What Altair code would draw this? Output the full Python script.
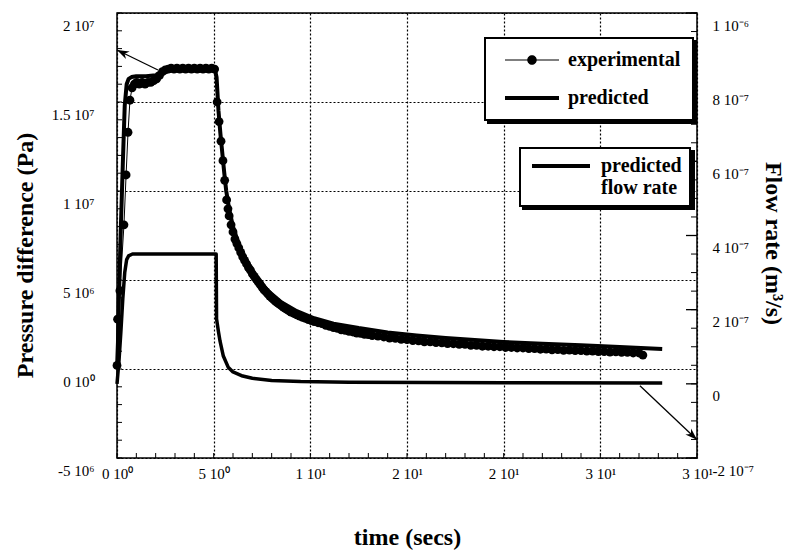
import json
import math
import altair as alt
import pandas as pd

# ---------------- data ----------------
# experimental pressure difference: time (s), pressure (10^6 Pa)
exp_t = [0.00, 0.03, 0.15, 0.36, 0.47, 0.57, 0.67, 0.78, 0.90, 1.02,
         1.15, 1.30, 1.45, 1.60, 1.75, 1.90, 2.05, 2.20, 2.35, 2.50,
         2.65, 2.80, 2.95, 3.10, 3.25, 3.40, 3.55, 3.70, 3.85, 4.00,
         4.15, 4.30, 4.45, 4.60, 4.75, 4.90, 5.05, 5.18, 5.28, 5.38,
         5.48, 5.57, 5.67, 5.74, 5.80, 5.90, 6.00, 6.10, 6.20, 6.30,
         6.40, 6.50, 6.60, 6.70, 6.80, 6.90, 7.00, 7.10, 7.20, 7.30,
         7.40, 7.50, 7.60, 7.70, 7.80, 7.90, 8.00, 8.10, 8.20, 8.30,
         8.40, 8.50, 8.60, 8.70, 8.80, 8.90, 9.00, 9.15, 9.30, 9.45,
         9.60, 9.75, 9.90, 10.05, 10.2, 10.4, 10.6, 10.8, 11.0, 11.2,
         11.4, 11.6, 11.8, 12.0, 12.2, 12.4, 12.6, 12.8, 13.0, 13.2,
         13.5, 13.8, 14.1, 14.4, 14.7, 15.0, 15.3, 15.6, 15.9, 16.2,
         16.5, 16.8, 17.1, 17.4, 17.7, 18.0, 18.3, 18.6, 18.9, 19.2,
         19.5, 19.8, 20.1, 20.4, 20.7, 21.0, 21.3, 21.6, 21.9, 22.2,
         22.5, 22.8, 23.1, 23.4, 23.7, 24.0, 24.3, 24.6, 24.9, 25.2,
         25.5, 25.8, 26.1, 26.4, 26.7, 27.0, 27.2]
exp_p_e6 = [0.2, 2.8, 4.4, 8.1, 10.9, 13.3, 15.1, 15.8, 16.0, 16.1,
            16.0, 16.1, 16.0, 16.1, 16.1, 16.2, 16.3, 16.5, 16.7, 16.8,
            16.85, 16.9, 16.85, 16.9, 16.85, 16.9, 16.85, 16.9, 16.85, 16.9,
            16.85, 16.9, 16.85, 16.9, 16.85, 16.9, 16.85, 15.0, 13.9, 12.8,
            11.7, 10.6, 9.5, 9.0, 8.6, 8.1, 7.7, 7.3, 7.05, 6.8,
            6.55, 6.3, 6.1, 5.9, 5.7, 5.55, 5.35, 5.2, 5.05, 4.9,
            4.75, 4.6, 4.45, 4.35, 4.22, 4.1, 4.0, 3.9, 3.8, 3.72,
            3.64, 3.56, 3.48, 3.4, 3.34, 3.27, 3.2, 3.12, 3.04, 2.97,
            2.9, 2.84, 2.78, 2.72, 2.66, 2.6, 2.55, 2.45, 2.4, 2.33,
            2.28, 2.2, 2.17, 2.12, 2.08, 2.02, 2.0, 1.95, 1.93, 1.88,
            1.85, 1.8, 1.74, 1.72, 1.66, 1.65, 1.6, 1.58, 1.53, 1.52,
            1.48, 1.47, 1.43, 1.42, 1.38, 1.38, 1.33, 1.33, 1.28, 1.28,
            1.25, 1.25, 1.21, 1.21, 1.18, 1.18, 1.14, 1.15, 1.11, 1.12,
            1.08, 1.09, 1.05, 1.06, 1.03, 1.03, 1.0, 1.01, 0.98, 0.98,
            0.95, 0.96, 0.93, 0.93, 0.9, 0.9, 0.78]

# predicted pressure difference: time (s), pressure (10^6 Pa)
pred_t = [0.0, 0.05, 0.1, 0.2, 0.3, 0.4, 0.5, 0.6, 0.75, 1.0, 1.5, 2.0, 2.2, 2.4, 2.6, 3.0, 4.0,
          5.05, 5.15, 5.25, 5.35, 5.45, 5.55, 5.65, 5.8, 6.0, 6.3, 6.7, 7.2, 7.8, 8.5, 9.3, 10.2,
          11.2, 12.5, 14.0, 15.5, 17.0, 18.5, 20.0, 22.0, 24.0, 26.0, 28.2]
pred_p_e6 = [0.0, 1.5, 4.0, 8.0, 11.5, 14.8, 16.0, 16.3, 16.4, 16.45, 16.45, 16.5, 16.6, 16.75, 16.85,
             16.9, 16.9, 16.9, 16.4, 14.5, 13.2, 12.1, 11.0, 10.0, 9.0, 8.0, 7.0, 6.1, 5.2, 4.4,
             3.75, 3.25, 2.85, 2.55, 2.3, 2.05, 1.88, 1.74, 1.63, 1.52, 1.42, 1.33, 1.24, 1.13]

# predicted flow rate: time (s), flow (10^-7 m^3/s)
flow_t = [0.0, 0.1, 0.2, 0.3, 0.4, 0.5, 0.6, 0.8, 1.0, 5.13, 5.15, 5.25, 5.33, 5.5, 5.75, 6.0,
          6.5, 7.0, 8.0, 9.5, 12.0, 20.0, 28.2]
flow_q_e7 = [0.0, 0.6, 1.4, 2.3, 3.0, 3.35, 3.45, 3.5, 3.5, 3.5, 1.75, 1.4, 1.15, 0.75, 0.45, 0.32,
             0.21, 0.15, 0.09, 0.06, 0.04, 0.03, 0.02]

# annotation arrows (data units): from curve towards its axis
arrow1_t = [2.12, 0.0]
arrow1_p = [16.8e6, 17.92e6]
arrow2_t = [27.05, 30.0]
arrow2_q = [-0.054e-7, -1.51e-7]

# axis ticks and labels
x_tick_values = [0, 5, 10, 15, 20, 25, 30]
x_tick_labels = ["0 10⁰", "5 10⁰", "1 10¹", "2 10¹", "2 10¹", "3 10¹", "3 10¹"]
left_tick_values = [-5e6, 0, 5e6, 1e7, 1.5e7, 2e7]
left_tick_labels = ["-5 10⁶", "0 10⁰", "5 10⁶", "1 10⁷", "1.5 10⁷", "2 10⁷"]
right_tick_values = [-2e-7, 0, 2e-7, 4e-7, 6e-7, 8e-7, 1e-6]
right_tick_labels = ["-2 10⁻⁷", "0", "2 10⁻⁷", "4 10⁻⁷", "6 10⁻⁷", "8 10⁻⁷", "1 10⁻⁶"]
x_minor_ticks = [float(i) for i in range(0, 31)]
left_minor_ticks = [-5e6 + i * 1e6 for i in range(26)]
right_minor_ticks = [-2e-7 + i * 5e-8 for i in range(25)]

legend1_labels = ["experimental", "predicted"]
legend2_labels = ["predicted flow rate"]

# ---------------- chart ----------------
W, H = 580, 445
FONT = "Liberation Serif"
X_DOM, YL_DOM, YR_DOM = [0, 30], [-5e6, 2e7], [-2e-7, 1e-6]


def xs():
    return alt.Scale(domain=X_DOM, nice=False, zero=False)


def yls():
    return alt.Scale(domain=YL_DOM, nice=False, zero=False)


def yrs():
    return alt.Scale(domain=YR_DOM, nice=False, zero=False)


exp_df = pd.DataFrame({"t": exp_t, "P": [v * 1e6 for v in exp_p_e6]})
pred_df = pd.DataFrame({"t": pred_t, "P": [v * 1e6 for v in pred_p_e6]})
flow_df = pd.DataFrame({"t": flow_t, "Q": [v * 1e-7 for v in flow_q_e7]})

common_axis = dict(ticks=False, domain=False, gridColor="black", gridDash=[2, 2],
                   gridWidth=1.2, gridOpacity=1, labelFont=FONT, labelFontSize=15,
                   labelColor="black", labelFlush=False, labelOverlap=False,
                   titleFont=FONT, titleFontSize=24, titleFontWeight="bold",
                   titleColor="black")

x_axis = alt.Axis(orient="bottom", grid=True, values=x_tick_values,
                  labelExpr=f"{json.dumps(x_tick_labels, ensure_ascii=False)}[round(datum.value / 5)]",
                  labelPadding=8, title="time  (secs)", titlePadding=44, **common_axis)
left_axis = alt.Axis(orient="left", grid=True, values=left_tick_values,
                     labelExpr=f"{json.dumps(left_tick_labels, ensure_ascii=False)}[round((datum.value + 5000000) / 5000000)]",
                     labelPadding=23, labelOffset=12, title="Pressure difference (Pa)",
                     titleAngle=270, titleX=-92, titleY=242, titleAlign="center",
                     titleBaseline="middle", **common_axis)
right_axis = alt.Axis(orient="right", grid=False, values=right_tick_values,
                      labelExpr=f"{json.dumps(right_tick_labels, ensure_ascii=False)}[round((datum.value + 0.0000002) / 0.0000002)]",
                      labelPadding=15, labelOffset=12, title="Flow rate (m³/s)",
                      titleAngle=90, titleX=75, titleY=230, titleAlign="center",
                      titleBaseline="middle", **common_axis)


def X(f):
    # every layer carries the same x axis so that the shared axis merges cleanly
    return alt.X(f, type="quantitative", scale=xs(), axis=x_axis)


def YL(f):
    return alt.Y(f, type="quantitative", scale=yls(), axis=None)


def YR(f):
    return alt.Y(f, type="quantitative", scale=yrs(), axis=None)


pred_line = alt.Chart(pred_df).mark_line(color="black", strokeWidth=4, strokeJoin="round").encode(
    x=X("t"), y=alt.Y("P:Q", scale=yls(), axis=left_axis))
exp_line = alt.Chart(exp_df).mark_line(color="black", strokeWidth=1).encode(x=X("t"), y=YL("P"))
exp_pts = alt.Chart(exp_df).mark_circle(color="black", size=78, opacity=1).encode(x=X("t"), y=YL("P"))

left_ticks = alt.Chart(pd.DataFrame({"v": left_minor_ticks})).mark_rule(color="black", strokeWidth=1).encode(
    y=YL("v"), x=alt.value(0), x2=alt.value(5))
bottom_ticks = alt.Chart(pd.DataFrame({"v": x_minor_ticks})).mark_rule(color="black", strokeWidth=1).encode(
    x=X("v"), y=alt.value(H), y2=alt.value(H - 5))

# arrow heads: orientation derived from the arrow's data direction
ARROW = "M0,0L-0.8,2.3L0,1.6L0.8,2.3Z"
kx = W / (X_DOM[1] - X_DOM[0])
kyl = H / (YL_DOM[1] - YL_DOM[0])
kyr = H / (YR_DOM[1] - YR_DOM[0])


def head_angle(ts, vs, ky):
    dx = (ts[1] - ts[0]) * kx
    dy = -(vs[1] - vs[0]) * ky
    return math.degrees(math.atan2(dx, -dy)) % 360


a1_df = pd.DataFrame({"t": arrow1_t, "P": arrow1_p})
arrow1_line = alt.Chart(a1_df).mark_line(color="black", strokeWidth=1.3).encode(x=X("t"), y=YL("P"))
arrow1_head = alt.Chart(a1_df.iloc[[1]]).mark_point(
    shape=ARROW, filled=True, size=110, color="black", opacity=1, strokeWidth=0,
    angle=head_angle(arrow1_t, arrow1_p, kyl)).encode(x=X("t"), y=YL("P"))

a2_df = pd.DataFrame({"t": arrow2_t, "Q": arrow2_q})
arrow2_line = alt.Chart(a2_df).mark_line(color="black", strokeWidth=1.3).encode(x=X("t"), y=YR("Q"))
arrow2_head = alt.Chart(a2_df.iloc[[1]]).mark_point(
    shape=ARROW, filled=True, size=110, color="black", opacity=1, strokeWidth=0,
    angle=head_angle(arrow2_t, arrow2_q, kyr)).encode(x=X("t"), y=YR("Q"))

flow_line = alt.Chart(flow_df).mark_line(color="black", strokeWidth=3.5, strokeJoin="round").encode(
    x=X("t"), y=alt.Y("Q:Q", scale=yrs(), axis=right_axis))
right_minor = alt.Chart(pd.DataFrame({"v": right_minor_ticks})).mark_rule(color="black", strokeWidth=1).encode(
    y=YR("v"), x=alt.value(W), x2=alt.value(W - 6))
right_major = alt.Chart(pd.DataFrame({"v": right_tick_values})).mark_rule(color="black", strokeWidth=1.3).encode(
    y=YR("v"), x=alt.value(W), x2=alt.value(W - 11))

# legends (native legends with custom line symbols) and their drop shadows
PATH_EXP = "M-5.4,-0.12L5.4,-0.12L5.4,0.12L-5.4,0.12Z M0.95,0A0.95,0.95,0,1,1,-0.95,0A0.95,0.95,0,1,1,0.95,0Z"
PATH_PRED = "M-5.4,-0.4L5.4,-0.4L5.4,0.4L-5.4,0.4Z"
PATH_FLOW = "M-5.8,-0.4L5.8,-0.4L5.8,0.4L-5.8,0.4Z"
SHADOW = 3

legend_common = dict(title=None, orient="none", strokeColor="black",
                     symbolSize=100, labelFont=FONT, labelFontSize=20,
                     labelFontWeight="bold", labelColor="black", symbolFillColor="black",
                     symbolStrokeWidth=0, symbolOpacity=1, labelLimit=300)
leg1_opts = dict(legendX=368, legendY=25, padding=12, rowPadding=18, symbolOffset=25,
                 labelOffset=26)
leg2_opts = dict(legendX=403, legendY=135, padding=8, symbolOffset=23, labelOffset=30,
                 labelExpr="['predicted', 'flow rate']")
# the shadow boxes carry no text: the label width is kept as extra label offset
leg1_shadow = dict(leg1_opts, labelOffset=26 + 113, labelExpr="''")
leg2_shadow = dict(leg2_opts, labelOffset=30 + 82, labelExpr="['', '']")


def legend_layer(labels, paths, opts, shadow):
    o = dict(opts)
    if shadow:
        o["legendX"] += SHADOW
        o["legendY"] += SHADOW
    leg = alt.Legend(fillColor="black" if shadow else "white", zindex=0 if shadow else 1,
                     **o, **legend_common)
    return alt.Chart(pd.DataFrame({"series": labels})).transform_filter("false").mark_point(
        filled=True, color="black", opacity=1, strokeWidth=0).encode(
        shape=alt.Shape("series:N", scale=alt.Scale(domain=labels, range=paths), legend=leg))


leg1s = legend_layer(legend1_labels, [PATH_EXP, PATH_PRED], leg1_shadow, True)
leg2s = legend_layer(legend2_labels, [PATH_FLOW], leg2_shadow, True)
leg1 = legend_layer(legend1_labels, [PATH_EXP, PATH_PRED], leg1_opts, False)
leg2 = legend_layer(legend2_labels, [PATH_FLOW], leg2_opts, False)

chart = alt.layer(
    pred_line, exp_line, exp_pts, left_ticks, bottom_ticks, arrow1_line, arrow1_head,
    flow_line, right_minor, right_major, arrow2_line, arrow2_head, leg1s, leg2s, leg1, leg2
).resolve_scale(y="independent", shape="independent").properties(
    width=W, height=H,
    autosize=alt.AutoSizeParams(type="none"),
    padding={"left": 109, "top": 5, "right": 88, "bottom": 92},
    background="white",
).configure_view(stroke="black", strokeWidth=1.5).configure_legend(strokeWidth=2)

chart.save("out.html", embed_options={"renderer": "svg", "actions": False})
